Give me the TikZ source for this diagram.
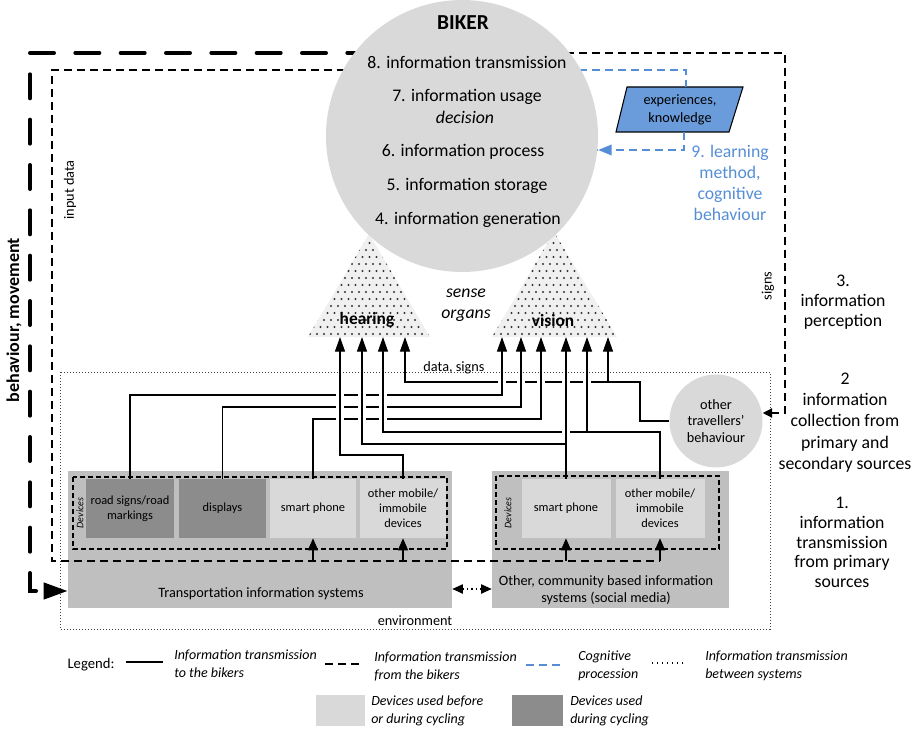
\documentclass[tikz,border=0pt]{standalone}
\usepackage{fontspec}
\setmainfont{Carlito}
\usetikzlibrary{arrows.meta,calc}
\definecolor{cgrey}{HTML}{D9D9D9}
\definecolor{boxgrey}{HTML}{BFBFBF}
\definecolor{darkdev}{HTML}{8C8C8C}
\definecolor{lightdev}{HTML}{D9D9D9}
\definecolor{expblue}{HTML}{6A9BDA}
\definecolor{cogblue}{HTML}{558ED5}
\definecolor{trifill}{HTML}{F0F0F0}
\newcommand{\fsBig}{\fontsize{13.3pt}{15.75pt}\selectfont}
\newcommand{\fsTitle}{\fontsize{16pt}{19pt}\selectfont}
\newcommand{\fsMid}{\fontsize{10.7pt}{12.5pt}\selectfont}
\newcommand{\fsDev}{\fontsize{9.3pt}{11.25pt}\selectfont}
\newcommand{\fsTiny}{\fontsize{7.5pt}{9pt}\selectfont}
\newcommand{\fsLeg}{\fontsize{10.5pt}{13.5pt}\selectfont}
\begin{document}
\begin{tikzpicture}[x=0.75pt,y=-0.75pt,
  conn/.style={line width=1pt, draw=black},
  tipA/.style={-{Triangle[length=11pt,width=7.5pt]}},
  tipS/.style={-{Triangle[length=9pt,width=7pt]}},
  tipB/.style={-{Triangle[length=18pt,width=12pt]}},
  dashA/.style={line width=1pt, dash pattern=on 6pt off 3.75pt},
  thickdash/.style={line width=3pt, line cap=round, dash pattern=on 18pt off 16pt},
  bluedash/.style={line width=1pt, draw=cogblue, dash pattern=on 6pt off 3.75pt},
  framedash/.style={line width=0.9pt, dash pattern=on 3.75pt off 2.25pt},
  envdot/.style={line width=0.75pt, draw=black!75, dash pattern=on 0.75pt off 1.5pt},
  sysbox/.style={fill=boxgrey, inner sep=0pt, minimum height=102.75pt},
  devD/.style={fill=darkdev, inner sep=0pt, minimum height=44.25pt, align=center, font=\fsDev},
  devL/.style={fill=lightdev, inner sep=0pt, minimum height=44.25pt, align=center, font=\fsDev},
  lbl/.style={font=\fsMid},
  big/.style={font=\fsBig, align=center},
  leg/.style={font=\fsLeg\itshape, align=left, anchor=west, inner sep=0pt},
  ]
\useasboundingbox (0,0) rectangle (918,731);

% environment
\draw[envdot] (60,372) rectangle (770,629);
\node[lbl] (envlbl) at (415,621) {environment};

% systems
\node[sysbox, minimum width=288pt] (tis) at (260,539.5) {};
\node[sysbox, minimum width=177.75pt] (cs) at (610.5,539.5) {};
\draw[framedash] (73,477) rectangle (447,549);
\draw[framedash] (496,476) rectangle (719,549);
\node[devD, minimum width=66pt] (rs) at (130,508.5) {road signs/road\\markings};
\node[devD, minimum width=65.25pt] (disp) at (222.5,508.5) {displays};
\node[devL, minimum width=64.5pt] (sp1) at (313,508.5) {smart phone};
\node[devL, minimum width=64.5pt] (om1) at (403,508.5) {other mobile/\\immobile\\devices};
\node[devL, minimum width=66.75pt] (sp2) at (566,508.5) {smart phone};
\node[devL, minimum width=66.75pt] (om2) at (660,508.5) {other mobile/\\immobile\\devices};
\node[rotate=90, font=\fsTiny\itshape] (dev1) at (80,513) {Devices};
\node[rotate=90, font=\fsTiny\itshape] (dev2) at (508,513) {Devices};
\node[lbl] (tislbl) at (261,594) {Transportation information systems};
\node[lbl, align=center] (cslbl) at (606,590) {Other, community based information\\systems (social media)};

% between systems
\coordinate (ds) at (470,589);
\draw[line width=0.8pt, dash pattern=on 0.8pt off 2.5pt, {Triangle[length=8pt,width=7pt]}-{Triangle[length=8pt,width=7pt]}] (ds -| tis.east) -- (ds -| cs.west);

% other travellers
\node[circle, fill=cgrey, minimum size=69.75pt, inner sep=0pt, align=center, font=\fsMid] (other) at (716,421) {\fontsize{10.7pt}{12.75pt}\selectfont other\\travellers'\\behaviour};

% sense organ triangles
\fill[trifill] (308,337) -- (369,234) -- (430,337) -- cycle;
\begin{scope}
\clip (308,337) -- (369,234) -- (430,337) -- cycle;
\foreach \r in {0,...,15}{
  \foreach \c in {0,...,19}{
    \fill[black!80] ({303+\c*7+mod(\r,2)*3.5},{334-\r*7}) circle[radius=1.05];
  }
}
\end{scope}
\fill[trifill] (492,337) -- (554,232) -- (617,337) -- cycle;
\begin{scope}
\clip (492,337) -- (554,232) -- (617,337) -- cycle;
\foreach \r in {0,...,15}{
  \foreach \c in {0,...,20}{
    \fill[black!80] ({487+\c*7+mod(\r,2)*3.5},{334-\r*7}) circle[radius=1.05];
  }
}
\end{scope}
\node[font=\fontsize{13pt}{15pt}\selectfont\bfseries] (hear) at (367,320) {hearing};
\node[font=\fontsize{13pt}{15pt}\selectfont\bfseries] (vis) at (553,320) {vision};
\node[font=\fsBig\itshape, align=center] (sense) at (466,305) {sense\\organs};

% arrow tip coordinates
\coordinate (h1) at (340,337);
\coordinate (h2) at (362,337);
\coordinate (h3) at (383,337);
\coordinate (h4) at (405,337);
\coordinate (v1) at (502,337);
\coordinate (v2) at (521,337);
\coordinate (v3) at (541,337);
\coordinate (v4) at (566,337);
\coordinate (v5) at (587,337);
\coordinate (v6) at (608,337);

% information transmission to the bikers
\draw[conn,tipA] (rs.north) |- (v1 |- 0,395) -- (v1);
\draw[conn,tipA] (disp.north) |- (v2 |- 0,407) -- (v2);
\draw[conn,tipA] (sp1.north) |- (v3 |- 0,419) -- (v3);
\draw[conn,tipA] (om2.north) |- (h3 |- 0,432) -- (h3);
\draw[conn,tipA] (v5 |- 0,432) -- (v5);
\draw[conn,tipA] (sp2.north) -- (v4);
\draw[conn,tipA] (v4 |- 0,444) -| (h2);
\draw[conn,tipA] (om1.north) |- (h1 |- 0,455) -- (h1);
\coordinate (dsg) at (640,382);
\draw[conn,tipA] (other.west) -| (dsg) -| (h4);
\draw[conn,tipA] (v6 |- dsg) -- (v6);
\foreach \x/\y in {340/395,340/407,340/419,362/395,362/407,362/419,383/395,383/407,383/419,502/382,521/382,541/382,566/382,587/382,566/432}{
  \fill[white] ({\x-4},{\y-2.2}) rectangle ({\x+4},{\y+2.2});
  \draw[conn] (\x,{\y-3}) -- (\x,{\y+3});
}
\node[lbl, anchor=base] (datalbl) at (454,371) {data, signs};

% information transmission from the bikers
\coordinate (bm) at (30,591);
\draw[thickdash,tipB] (462,53) -| (bm) -- (bm -| tis.west);
\coordinate (idc) at (52,561);
\draw[dashA] (462,70) -| (idc) -- (idc -| om2.south);
\foreach \d in {sp1,om1,sp2,om2}{
  \draw[conn,-{Triangle[length=9pt,width=7.5pt]}] (\d.south |- idc) -- (\d.south);
}
\coordinate (sg) at (785,413);
\draw[dashA,-{Triangle[length=7pt,width=7pt]}] (462,53) -| (sg) -- (sg -| other.east);
\node[rotate=90, lbl] (inlbl) at (70,190) {input data};
\node[rotate=90, lbl] (sglbl) at (768,286) {signs};
\node[rotate=90, font=\fontsize{13.5pt}{16pt}\selectfont\bfseries] (behlbl) at (14,320) {behaviour, movement};

% cognitive procession
\node[inner sep=0pt, minimum width=85pt, minimum height=33.75pt] (exp) at (680,109.5) {};
\draw[fill=expblue, line width=0.8pt] (627,87) -- (743,87) -- (729,132) -- (616,132) -- cycle;
\node[font=\fontsize{10.7pt}{13.5pt}\selectfont, align=center] (exptxt) at (680,109.5) {experiences,\\knowledge};
\coordinate (bt) at (686,70);
\draw[bluedash] (462,70) -- (bt) -- (bt |- exp.north);
\coordinate (bb) at (684,150);
\draw[bluedash] (bb |- exp.south) -- (bb) -- (462,150);
\node[font=\fsBig, align=center, text=cogblue] (learn) at (730,182.5) {9. learning\\method,\\cognitive\\behaviour};

% biker circle
\node[circle, fill=cgrey, minimum size=204pt, inner sep=0pt] (biker) at (462,136) {};
\node[font=\fsTitle\bfseries] (bikerlbl) at (463,23) {BIKER};
\node[big] (s8) at (467,62) {8. information transmission};
\node[big] (s7) at (467,97) {7. information usage};
\node[font=\fsBig\itshape] (s7b) at (465,117) {decision};
\node[big] (s6) at (463,152) {6. information process};
\node[big] (s5) at (467,186) {5. information storage};
\node[big] (s4) at (468,220) {4. information generation};
% arrow tip of the blue line on the circle edge
\draw[bluedash,-{Triangle[length=10pt,width=8pt]}] (bb -| 610,0) -- (bb -| biker.east);

% steps on the right
\node[font=\fontsize{13.3pt}{15pt}\selectfont, align=center] (st3) at (843,302) {3.\\information\\perception};
\node[font=\fontsize{13.3pt}{15.9pt}\selectfont, align=center] (st2) at (845,422.5) {2\\information\\collection from\\primary and\\secondary sources};
\node[font=\fontsize{13.3pt}{14.8pt}\selectfont, align=center] (st1) at (842,542.5) {1.\\information\\transmission\\from primary\\sources};

% legend
\node[font=\fontsize{11pt}{13pt}\selectfont] (legl) at (91,665) {Legend:};
\draw[line width=1pt] (126,662) -- (163,662);
\node[leg] (leg1) at (174,664) {Information transmission\\to the bikers};
\draw[dashA] (325,664) -- (363,664);
\node[leg] (leg2) at (374,666) {Information transmission\\from the bikers};
\draw[bluedash] (526,665) -- (563,665);
\node[leg] (leg3) at (578,666) {Cognitive\\procession};
\draw[line width=0.8pt, dash pattern=on 0.8pt off 3pt] (652,663) -- (683,663);
\node[leg] (leg4) at (705,666) {Information transmission\\between systems};
\fill[lightdev] (316,695) rectangle (365,726);
\node[leg] (leg5) at (371,711) {Devices used before\\or during cycling};
\fill[darkdev] (512,695) rectangle (563,726);
\node[leg] (leg6) at (570,711) {Devices used\\during cycling};
\end{tikzpicture}
\end{document}
